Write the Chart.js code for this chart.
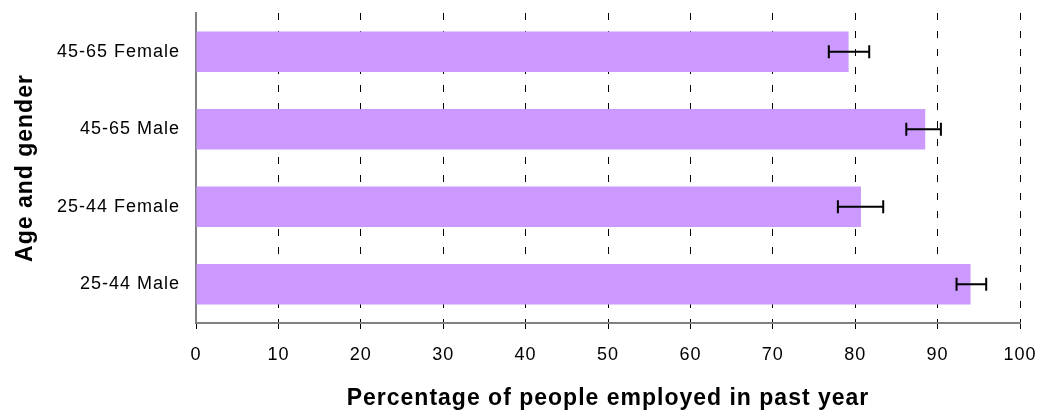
<!DOCTYPE html>
<html lang="en">
<head>
  <meta charset="UTF-8">
  <title>Employment by age and gender</title>
  <script src="https://cdn.jsdelivr.net/npm/chart.js"></script>
  <style>
    html, body { margin: 0; padding: 0; background: #fff; }
    .wrap { width: 1042px; height: 416px; }
  </style>
</head>
<body>
  <div class="wrap">
    <canvas id="barChart" width="1042" height="416"></canvas>
  </div>

  <script>
    // data
    const groups = ['45-65 Female', '45-65 Male', '25-44 Female', '25-44 Male'];
    const employed = [79.2, 88.5, 80.7, 94.0];
    const errLow = [76.8, 86.2, 77.9, 92.3];
    const errHigh = [81.7, 90.4, 83.4, 95.9];

    // the reference text is set slightly wide
    const wideText = {
      id: 'wideText',
      beforeUpdate(chart) { chart.ctx.letterSpacing = '1px'; },
      beforeDraw(chart) { chart.ctx.letterSpacing = '1px'; }
    };

    // error bars drawn through the scales
    const errorBars = {
      id: 'errorBars',
      afterDatasetsDraw(chart) {
        const ctx = chart.ctx;
        const x = chart.scales.x;
        const meta = chart.getDatasetMeta(0);
        ctx.save();
        ctx.strokeStyle = '#000';
        ctx.lineWidth = 2;
        meta.data.forEach((bar, i) => {
          const y = bar.y;
          const x1 = x.getPixelForValue(errLow[i]);
          const x2 = x.getPixelForValue(errHigh[i]);
          ctx.beginPath();
          ctx.moveTo(x1, y); ctx.lineTo(x2, y);
          ctx.moveTo(x1, y - 6.5); ctx.lineTo(x1, y + 6.5);
          ctx.moveTo(x2, y - 6.5); ctx.lineTo(x2, y + 6.5);
          ctx.stroke();
        });
        ctx.restore();
      }
    };

    const barChart = new Chart(document.getElementById('barChart'), {
      type: 'bar',
      data: {
        labels: groups,
        datasets: [{
          data: employed,
          backgroundColor: '#CC99FF',
          categoryPercentage: 1,
          barPercentage: 0.52
        }]
      },
      options: {
        indexAxis: 'y',
        responsive: false,
        animation: false,
        layout: { padding: { left: 12, right: 22, top: 13, bottom: 4 } },
        plugins: {
          legend: { display: false },
          tooltip: { enabled: false }
        },
        scales: {
          x: {
            min: 0,
            max: 100,
            ticks: { stepSize: 10, color: '#000', padding: 15, font: { family: 'Liberation Sans, Arial', size: 18 } },
            grid: { color: '#000', lineWidth: 1, tickLength: 6, tickColor: '#000' },
            border: { color: '#808080', width: 2, dash: [7, 11] },
            title: {
              display: true,
              text: 'Percentage of people employed in past year',
              color: '#000',
              font: { family: 'Liberation Sans, Arial', size: 23, weight: 'bold' },
              padding: { top: 10, bottom: 0 }
            },
            afterFit: s => { s.height = 89; s.paddingLeft = 0; s.paddingRight = 0; }
          },
          y: {
            ticks: { color: '#000', padding: 8, font: { family: 'Liberation Sans, Arial', size: 18 } },
            grid: { display: false },
            border: { color: '#808080', width: 2 },
            title: {
              display: true,
              text: 'Age and gender',
              color: '#000',
              font: { family: 'Liberation Sans, Arial', size: 23, weight: 'bold' },
              padding: { top: 0, bottom: 0 }
            },
            afterFit: s => { s.width = 184; s.paddingTop = 0; s.paddingBottom = 0; }
          }
        }
      },
      plugins: [wideText, errorBars]
    });
  </script>
</body>
</html>
